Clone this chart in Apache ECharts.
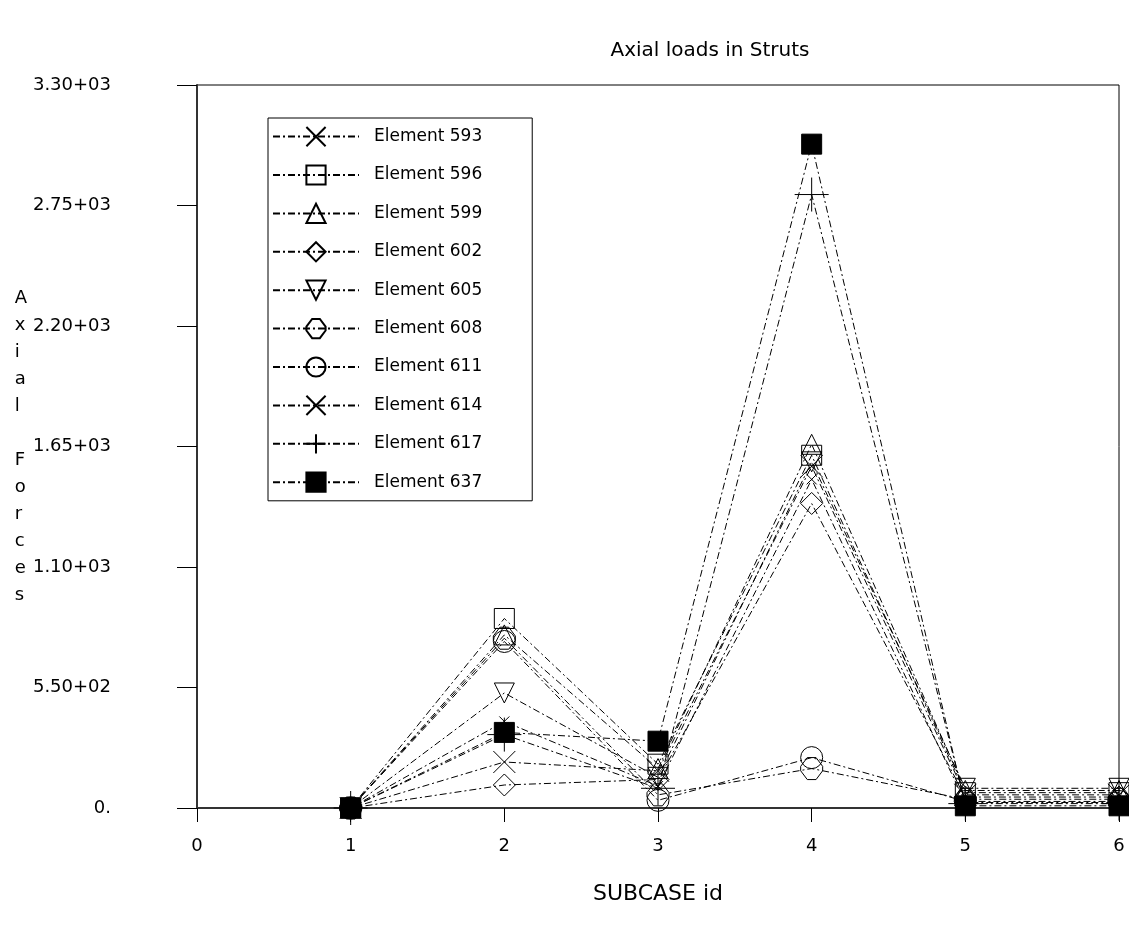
<!DOCTYPE html>
<html>
<head>
<meta charset="utf-8">
<script src="https://cdn.jsdelivr.net/npm/echarts@6/dist/echarts.min.js"></script>
<style>
  html, body { margin: 0; padding: 0; background: #fff; }
  #chart { width: 1129px; height: 927px; }
</style>
</head>
<body>
<div id="chart"></div>
<script>
// subcase ids on the x axis
const subcases = [1, 2, 3, 4, 5, 6];
const yTicks = [0, 550, 1100, 1650, 2200, 2750, 3300];

// axial force per element, one value per subcase
const e593 = [0, 210, 170, 1560, 60, 60];
const e596 = [0, 865, 200, 1610, 70, 70];
const e599 = [0, 790, 180, 1660, 80, 80];
const e602 = [0, 105, 130, 1390, 50, 50];
const e605 = [0, 525, 140, 1580, 90, 90];
const e608 = [0, 775, 60, 180, 40, 40];
const e611 = [0, 760, 35, 230, 30, 30];
const e614 = [0, 395, 100, 1500, 25, 25];
const e617 = [0, 335, 90, 2800, 20, 20];
const e637 = [0, 345, 305, 3030, 10, 10];

const elements = [
  { name: 'Element 593', data: e593, symbol: 'path://M0,0L10,10M10,0L0,10', size: 22 },
  { name: 'Element 596', data: e596, symbol: 'rect', size: 20 },
  { name: 'Element 599', data: e599, symbol: 'triangle', size: 20 },
  { name: 'Element 602', data: e602, symbol: 'diamond', size: 22 },
  { name: 'Element 605', data: e605, symbol: 'triangle', size: 20, rotate: 180 },
  { name: 'Element 608', data: e608, symbol: 'path://M3,0L7,0L10,4L10,6L7,10L3,10L0,6L0,4Z', size: 22 },
  { name: 'Element 611', data: e611, symbol: 'circle', size: 22 },
  { name: 'Element 614', data: e614, symbol: 'path://M0,0L10,10M10,0L0,10', size: 10 },
  { name: 'Element 617', data: e617, symbol: 'path://M5,0L5,10M0,5L10,5', size: 34 },
  { name: 'Element 637', data: e637, symbol: 'rect', size: 20, filled: true }
];

function sciLabel(v) {
  if (v === 0) return '0.';
  const exp = Math.floor(Math.log10(v));
  const m = (v / Math.pow(10, exp)).toFixed(2);
  return m + '+' + String(exp).padStart(2, '0');
}

const font = 'DejaVu Sans';
const chart = echarts.init(document.getElementById('chart'));

const option = {
  animation: false,
  backgroundColor: '#fff',
  title: {
    text: 'Axial loads in Struts',
    left: 705,
    top: 36,
    textAlign: 'center',
    textStyle: { fontFamily: font, fontSize: 20, fontWeight: 'normal', color: '#000' }
  },
  grid: {
    left: 197,
    right: 10,
    top: 85,
    bottom: 119,
    show: true,
    borderColor: '#000',
    borderWidth: 1
  },
  legend: {
    orient: 'vertical',
    left: 268,
    top: 118,
    itemWidth: 86,
    itemHeight: 24,
    itemGap: 17.2,
    padding: [8, 50, 8, 4],
    borderColor: '#000',
    borderWidth: 1,
    backgroundColor: '#fff',
    selectedMode: false,
    textStyle: { fontFamily: font, fontSize: 17, color: '#000', padding: [0, 0, 0, 10] },
    data: elements.map(e => e.name)
  },
  xAxis: {
    type: 'value',
    min: 0,
    max: 6,
    interval: 1,
    name: 'SUBCASE id',
    nameLocation: 'middle',
    nameGap: 75,
    nameTextStyle: { fontFamily: font, fontSize: 22, color: '#000' },
    axisLine: { lineStyle: { color: '#333', width: 2 } },
    axisTick: { length: 14, lineStyle: { color: '#000' } },
    axisLabel: { margin: 29, fontFamily: font, fontSize: 18, color: '#000' },
    splitLine: { show: false }
  },
  yAxis: {
    type: 'value',
    min: 0,
    max: 3300,
    interval: 550,
    name: 'Axial Forces'.split('').join('\n'),
    nameLocation: 'middle',
    nameRotate: 0,
    nameGap: 182,
    nameTextStyle: { fontFamily: font, fontSize: 18, color: '#000', align: 'left', lineHeight: 27 },
    axisLine: { lineStyle: { color: '#333', width: 2 } },
    axisTick: { length: 20, lineStyle: { color: '#000' } },
    axisLabel: {
      margin: 86,
      fontFamily: font,
      fontSize: 18,
      color: '#000',
      formatter: v => (yTicks.indexOf(v) >= 0 ? sciLabel(v) : '')
    },
    splitLine: { show: false }
  },
  series: elements.map(e => ({
    name: e.name,
    type: 'line',
    data: e.data.map((v, i) => [subcases[i], v]),
    symbol: e.symbol,
    symbolSize: e.size,
    symbolRotate: e.rotate || 0,
    symbolKeepAspect: true,
    showAllSymbol: true,
    lineStyle: { color: '#000', width: 1, type: [7, 3, 2, 3] },
    itemStyle: {
      color: e.filled ? '#000' : 'rgba(0,0,0,0)',
      borderColor: '#000',
      borderWidth: 1
    },
    emphasis: { disabled: true }
  }))
};

chart.setOption(option);
</script>
</body>
</html>
